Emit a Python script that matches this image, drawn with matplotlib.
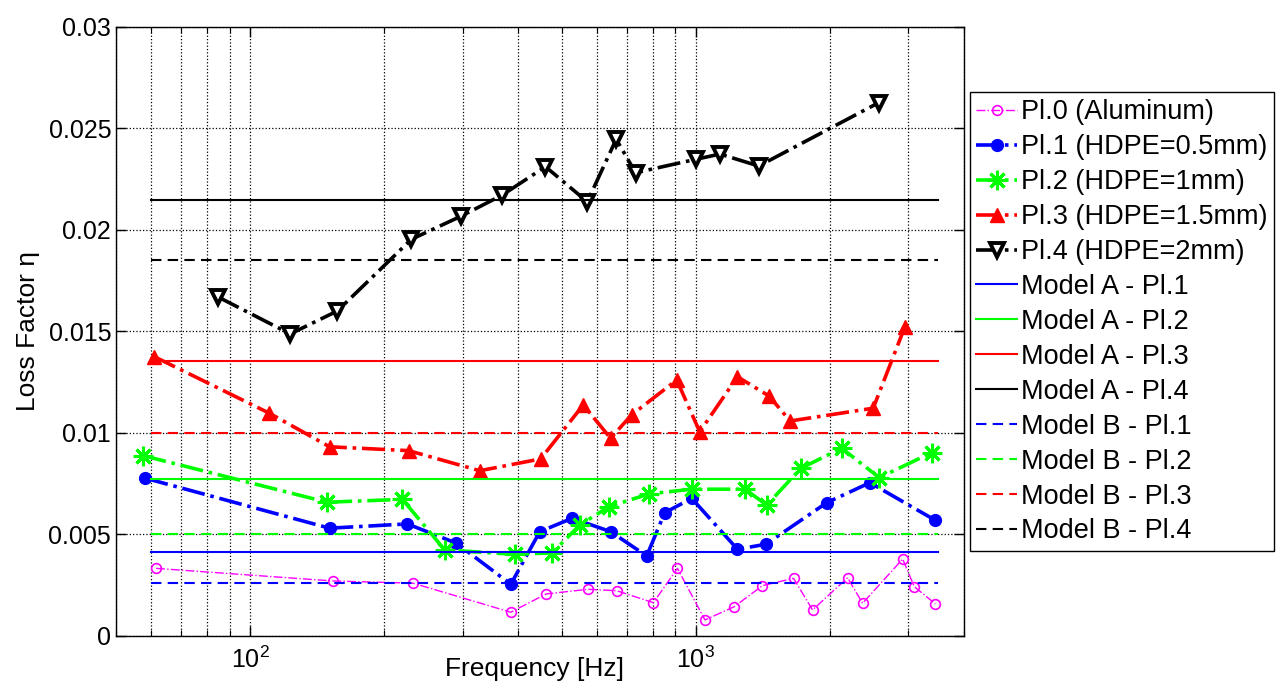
import matplotlib
matplotlib.use("Agg")
import matplotlib.pyplot as plt
from matplotlib.ticker import LogLocator, NullFormatter, FixedLocator

plt.rcParams['font.family'] = ['Liberation Sans', 'DejaVu Sans']
plt.rcParams['mathtext.fontset'] = 'custom'
plt.rcParams['mathtext.rm'] = 'Liberation Sans'
plt.rcParams['mathtext.it'] = 'Liberation Sans:italic'

# ---------------- data ----------------
f0 = [61.5, 153.4, 232.1, 384.6, 461.7, 572.8, 664.5, 803.5, 909.8, 1049,
      1220, 1412, 1658, 1829, 2192, 2369, 2914, 3094, 3450]
eta0 = [0.00333, 0.00271, 0.00260, 0.00117, 0.00207, 0.00230, 0.00223, 0.00164,
        0.00333, 0.00079, 0.00144, 0.00248, 0.00284, 0.00128, 0.00287, 0.00161,
        0.00379, 0.00243, 0.00158]

f1 = [58.2, 150.7, 225.3, 290.3, 384.6, 446.8, 528.4, 644.2, 776.2, 851.8,
      979.5, 1241, 1437, 1970, 2460, 3443]
eta1 = [0.00777, 0.00531, 0.00552, 0.00457, 0.00255, 0.00514, 0.00580, 0.00514,
        0.00394, 0.00607, 0.00678, 0.00427, 0.00452, 0.00657, 0.00755, 0.00571]

f2 = [57.6, 148.7, 219.6, 273.3, 393.9, 476.4, 549.6, 638.8, 785.6, 979.5,
      1290, 1444, 1722, 2126, 2582, 3385]
eta2 = [0.00888, 0.00659, 0.00673, 0.00424, 0.00402, 0.00410, 0.00547, 0.00637,
        0.00700, 0.00723, 0.00723, 0.00645, 0.00826, 0.00925, 0.00780, 0.00903]

f3 = [60.9, 110.5, 150.7, 226.8, 327.6, 448.5, 559.3, 644, 718, 906.5,
      1021, 1241, 1461, 1629, 2502, 2949]
eta3 = [0.01376, 0.01097, 0.00932, 0.00913, 0.00814, 0.00872, 0.01138, 0.00974,
        0.01089, 0.01261, 0.01006, 0.01277, 0.01182, 0.01059, 0.01122, 0.01524]

f4 = [84.7, 123, 156.9, 230, 298, 368, 460, 571, 663, 733, 1000, 1134, 1385, 2574]
eta4 = [0.01670, 0.01488, 0.01601, 0.01954, 0.02069, 0.02172, 0.02312, 0.02139,
        0.02447, 0.02282, 0.02348, 0.02374, 0.02315, 0.02627]

model_x = [60, 3500]
modelA = [0.00414, 0.00773, 0.01355, 0.0215]
modelB = [0.00263, 0.00502, 0.0100, 0.0185]

series_labels = ['Pl.0 (Aluminum)', 'Pl.1 (HDPE=0.5mm)', 'Pl.2 (HDPE=1mm)',
                 'Pl.3 (HDPE=1.5mm)', 'Pl.4 (HDPE=2mm)']
modelA_labels = ['Model A - Pl.1', 'Model A - Pl.2', 'Model A - Pl.3', 'Model A - Pl.4']
modelB_labels = ['Model B - Pl.1', 'Model B - Pl.2', 'Model B - Pl.3', 'Model B - Pl.4']

yticks = [0, 0.005, 0.01, 0.015, 0.02, 0.025, 0.03]
ytick_labels = ['0', '0.005', '0.01', '0.015', '0.02', '0.025', '0.03']

model_colors = ['#0000ff', '#00ff00', '#ff0000', '#000000']

# ---------------- figure ----------------
fig = plt.figure(figsize=(12.81, 6.90), dpi=100)
ax = fig.add_axes([0.0906, 0.0783, 0.6619, 0.8826])

asterisk = (8, 2, 0)

ax.plot(f0, eta0, linestyle='-.', color='#ff00ff', lw=1.0, marker='o',
        ms=7, mfc='none', mec='#ff00ff', mew=1.2, label=series_labels[0])
ax.plot(f1, eta1, linestyle='-.', color='#0000ff', lw=2.6, marker='o',
        ms=8.5, mfc='#0000ff', mec='#0000ff', label=series_labels[1])
ax.plot(f2, eta2, linestyle='-.', color='#00ff00', lw=2.6, marker=asterisk,
        ms=14, mec='#00ff00', mew=2.2, label=series_labels[2])
ax.plot(f3, eta3, linestyle='-.', color='#ff0000', lw=2.6, marker='^',
        ms=10, mfc='#ff0000', mec='#ff0000', label=series_labels[3])
ax.plot(f4, eta4, linestyle='-.', color='#000000', lw=2.6, marker='v',
        ms=10, mfc='white', mec='#000000', mew=2.8, label=series_labels[4])

for val, c, lab in zip(modelA, model_colors, modelA_labels):
    ax.plot(model_x, [val, val], linestyle='-', color=c, lw=1.5, label=lab)
for val, c, lab in zip(modelB, model_colors, modelB_labels):
    ax.plot(model_x, [val, val], linestyle=(0, (5, 3)), color=c, lw=1.5, label=lab)

ax.set_xscale('log')
ax.set_xlim(50, 4000)
ax.set_ylim(0, 0.03)
ax.yaxis.set_major_locator(FixedLocator(yticks))
ax.set_yticklabels(ytick_labels)
ax.xaxis.set_major_locator(LogLocator(base=10, numticks=10))
ax.xaxis.set_minor_locator(LogLocator(base=10, subs=range(2, 10), numticks=20))
ax.xaxis.set_minor_formatter(NullFormatter())

ax.grid(True, which='major', axis='both', linestyle=':', color='black', lw=0.9)
ax.grid(True, which='minor', axis='x', linestyle=':', color='black', lw=0.9)
ax.set_axisbelow(True)

ax.tick_params(which='both', direction='in', top=True, right=True, labelsize=18)
ax.tick_params(which='major', length=7, width=1)
ax.tick_params(which='minor', length=4, width=0.8)
ax.tick_params(axis='x', pad=8)
for s in ax.spines.values():
    s.set_linewidth(1.0)

ax.set_xlabel('Frequency [Hz]', fontsize=19)
ax.xaxis.set_label_coords(0.494, -0.034)
ax.set_ylabel('Loss Factor η', fontsize=19, labelpad=6)

leg = ax.legend(loc='upper left', bbox_to_anchor=(0.757, 0.866),
                bbox_transform=fig.transFigure, fontsize=19.5, numpoints=1,
                handlelength=1.5, handletextpad=0.15, labelspacing=0.33,
                borderpad=0.25, borderaxespad=0, fancybox=False,
                edgecolor='black', framealpha=1)
leg.get_frame().set_linewidth(1.0)

fig.savefig('out.png', dpi=100)
